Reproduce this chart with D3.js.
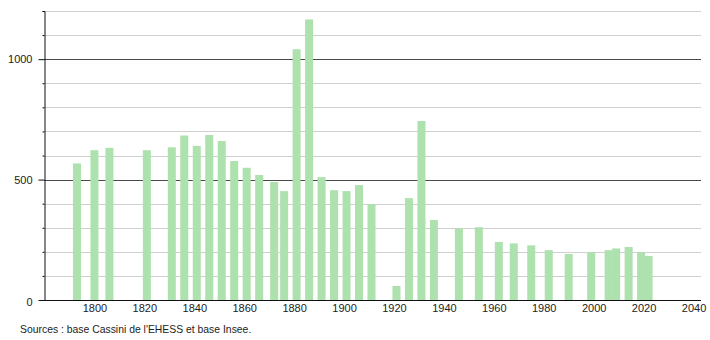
<!DOCTYPE html>
<html>
<head>
<meta charset="utf-8">
<script src="https://cdn.jsdelivr.net/npm/d3@7"></script>
<style>
    body { margin: 0; background: #fff; }
    svg text { font-family: "Liberation Sans", Arial, sans-serif; font-size: 11px; fill: #222; }
    .grid line { stroke: #cfcfcf; stroke-width: 1; }
    .grid line.major { stroke: #4a4a4a; }
    .axis path, .axis line { stroke: #111; }
</style>
</head>
<body>
<div id="chart"></div>
<script>
// Census years and population
const years = [1793, 1800, 1806, 1821, 1831, 1836, 1841, 1846, 1851, 1856,
    1861, 1866, 1872, 1876, 1881, 1886, 1891, 1896, 1901, 1906,
    1911, 1921, 1926, 1931, 1936, 1946, 1954, 1962, 1968, 1975,
    1982, 1990, 1999, 2006, 2009, 2014, 2019, 2022];
const population = [567, 622, 632, 622, 634, 683, 640, 685, 660, 577,
    549, 519, 490, 452, 1041, 1165, 510, 456, 452, 477,
    398, 58, 423, 743, 332, 297, 302, 241, 235, 227,
    207, 191, 198, 207, 214, 220, 198, 183];
const xTicks = [1800, 1820, 1840, 1860, 1880, 1900, 1920, 1940, 1960, 1980, 2000, 2020, 2040];
const yTicks = [0, 100, 200, 300, 400, 500, 600, 700, 800, 900, 1000, 1100, 1200];
const yLabels = [0, 500, 1000];
const sourceText = "Sources : base Cassini de l'EHESS et base Insee.";

const data = years.map((y, i) => ({ year: y, value: population[i] }));

let W = 710, H = 340,
    margin = { top: 11, left: 44, right: 9, bottom: 40 },
    barWidth = 8;

let svg = d3.select('#chart')
    .append('svg')
    .attr('width', W)
    .attr('height', H);

let xScale = d3.scaleLinear()
    .domain([1780, 2043])
    .range([margin.left + 0.5, W - margin.right]);

let yScale = d3.scaleLinear()
    .domain([0, 1200])
    .range([H - margin.bottom, margin.top]);

// Horizontal grid, darker at every 500
svg.append('g')
    .attr('class', 'grid')
    .selectAll('line')
    .data(yTicks.filter(d => d > 0))
    .join('line')
    .attr('class', d => d % 500 === 0 ? 'major' : null)
    .attr('x1', margin.left)
    .attr('x2', W - margin.right)
    .attr('y1', d => Math.round(yScale(d)) + 0.5)
    .attr('y2', d => Math.round(yScale(d)) + 0.5);

// Bars
svg.append('g')
    .selectAll('rect')
    .data(data)
    .join('rect')
    .attr('x', d => xScale(d.year) - barWidth / 2)
    .attr('width', barWidth)
    .attr('y', d => yScale(d.value))
    .attr('height', d => yScale(0) - yScale(d.value))
    .attr('fill', '#ade1ad');

// Y axis, short ticks every 100 and longer ones at the labels
let yAxis = svg.append('g')
    .attr('class', 'axis')
    .attr('transform', 'translate(' + (margin.left + 0.5) + ',0)')
    .call(d3.axisLeft(yScale)
        .tickValues(yTicks)
        .tickSizeOuter(0)
        .tickSize(2)
        .tickPadding(10)
        .tickFormat(d => yLabels.includes(d) ? d : ''));

yAxis.selectAll('.tick line')
    .attr('x2', d => yLabels.includes(d) ? -6 : -2);
yAxis.selectAll('.tick text')
    .attr('dy', d => d === 0 ? '0.5em' : '0.32em');

// X axis, labels only
let xAxis = svg.append('g')
    .attr('class', 'axis')
    .attr('transform', 'translate(0,' + (yScale(0) + 0.5) + ')')
    .call(d3.axisBottom(xScale)
        .tickValues(xTicks)
        .tickSize(0)
        .tickSizeOuter(0)
        .tickPadding(4)
        .tickFormat(d3.format('d')));

xAxis.select('.domain')
    .attr('d', 'M' + margin.left + ',0H' + (W - margin.right));

// Source line
svg.append('text')
    .attr('x', 20)
    .attr('y', 333)
    .style('font-size', '10.4px')
    .text(sourceText);
</script>
</body>
</html>
